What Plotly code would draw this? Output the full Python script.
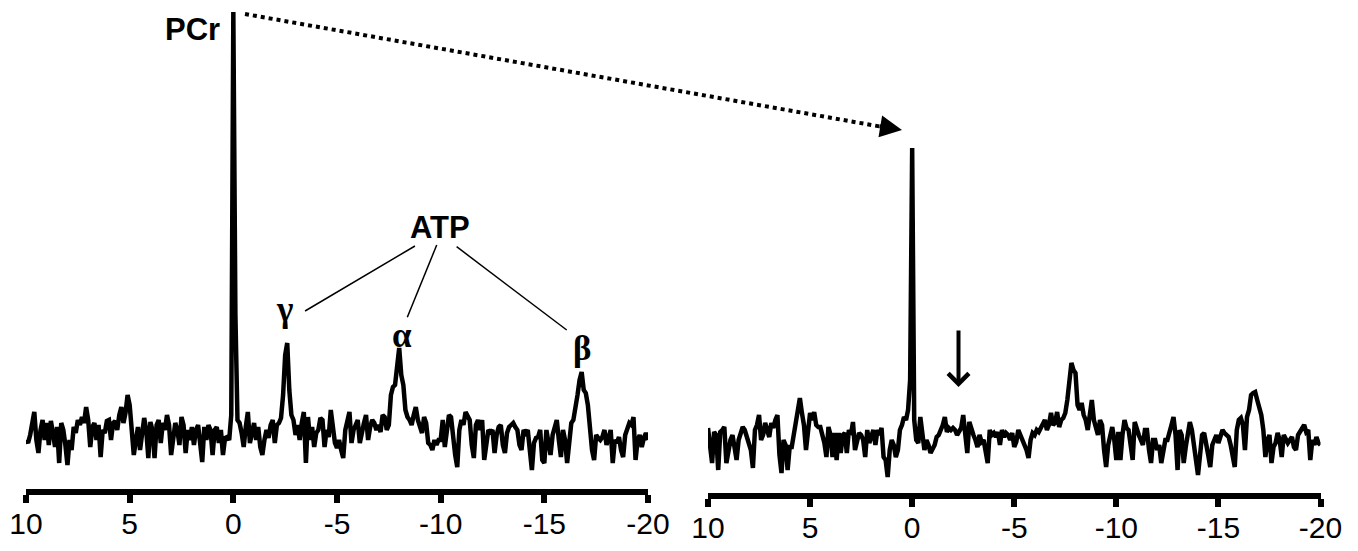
import plotly.graph_objects as go

# chemical shift grid (ppm), 10 -> -20 in 0.1 steps
ppm = [round(10 - i * 0.1, 1) for i in range(301)]
tick_vals = [10, 5, 0, -5, -10, -15, -20]
tick_text = ["10", "5", "0", "-5", "-10", "-15", "-20"]

# left spectrum (signal intensity, arbitrary units)
left_signal = [
    -5, -8, 0, 15, 23, -5, -18, 5, 15, -5,
    12, -10, 14, 2, -12, 8, -28, 12, 5, -10,
    -30, -5, -15, 8, 2, 15, 10, 18, 12, 28,
    15, -12, 8, 12, -5, 10, -22, 5, 2, 14,
    15, -5, 12, 14, 5, 20, 28, 12, 22, 40,
    30, 5, -20, -5, 8, -15, 5, 17, 5, -23,
    13, 5, -23, 10, 15, -8, 12, 5, 20, 10,
    -20, -5, 12, 5, -10, 18, 10, -18, 5, -5,
    8, -10, 5, 10, -5, -27, 8, -5, 10, 5,
    -20, 5, 8, -8, 5, -20, -3, -2, -5, 20,
    423, 120, 15, 12, 2, -12, 8, 23, -8, 5,
    12, -5, 8, -12, -20, -5, 5, -3, 10, 15,
    -8, 10, 12, 17, 40, 80, 92, 45, 20, 15,
    0, 10, -5, 12, 23, -28, 18, -5, 8, -12,
    2, 5, 17, 15, -12, 5, -2, 25, 10, -8,
    -13, -5, -15, -23, 5, 15, 23, -8, 5, 10,
    15, -8, 5, 12, 20, -5, 8, 15, 12, 5,
    10, 3, 20, 18, 5, 10, 40, 48, 50, 75,
    87, 60, 50, 25, 18, 15, 10, 20, 28, 15,
    8, 2, 18, 12, -8, -10, -15, -5, -10, -5,
    -5, 15, -12, 10, 20, 18, -5, -20, -32, 5,
    15, 10, 23, 18, 15, -10, -23, 10, 15, 5,
    15, -25, -5, 5, 3, 5, -18, 0, 8, 10,
    -10, -18, 2, 8, 10, 12, 8, 5, -10, -15,
    5, 2, 5, -20, -35, -8, -3, -2, 5, -25,
    -28, 5, -10, -20, 0, 10, 15, -5, -22, 5,
    -5, -28, -8, 12, 15, 25, 40, 55, 63, 45,
    42, 30, 2, -15, -25, 0, -3, -5, -2, 5,
    -10, 0, 5, -28, -5, -8, -2, -15, -22, 0,
    5, 12, 10, 18, -25, -5, 0, -12, -3, 2,
    -5,
]

# right spectrum (signal intensity, arbitrary units)
right_signal = [
    12, -5, -23, 8, 5, -30, 8, 10, 13, -23,
    -10, 0, 5, -5, -20, 0, 8, 13, 10, 3,
    -5, -10, -28, 10, 15, 25, 0, 5, 17, 10,
    3, 17, 12, 20, 25, -15, -33, 0, -5, -30,
    -7, -7, 5, 15, 30, 42, 27, 15, -10, 10,
    27, 20, 28, 15, 13, 13, 5, -3, -17, 13,
    5, -17, 7, -20, 7, -13, 5, 7, -13, 10,
    5, 18, -10, 0, 7, 5, 0, -17, 10, -3,
    5, 10, -5, 10, 5, 12, -17, -20, -37, -10,
    0, -5, -17, -10, 10, 15, 23, 20, 30, 60,
    292, 20, 0, -3, 23, 5, -10, 0, -5, -13,
    -8, -5, 3, 5, 10, 15, 23, 8, 12, 10,
    12, 10, 5, 8, 12, 25, 5, -13, 18, 10,
    5, 0, -7, 5, -2, 0, -10, -23, 10, 5,
    7, 3, 8, -5, 10, 3, 7, 5, 0, 7,
    -7, -2, 10, 5, 0, -5, -10, -18, 0, 7,
    5, 10, 8, 12, 17, 20, 10, 15, 27, 15,
    17, 28, 13, 20, 22, 27, 40, 60, 77, 70,
    67, 35, 30, 37, 25, 20, 10, 25, 40, 20,
    10, 5, 20, 15, -10, -27, -5, 5, 13, 0,
    -20, 8, -20, 5, 20, 12, 10, -5, -20, 18,
    10, 5, 0, -5, 10, 10, -10, -23, 0, 0,
    -10, -5, -23, -10, 0, 0, 10, 15, 23, 5,
    -30, 10, 5, -23, -7, 5, 18, 10, -10, -20,
    -35, -10, 5, 7, -7, -15, -27, -5, 0, 5,
    -3, 5, 10, 7, 5, 3, -5, -15, -27, 10,
    20, 22, 15, -10, 23, 30, 45, 47, 48, 40,
    33, 25, 10, -17, 0, 5, -23, -7, -3, 7,
    0, -17, 5, 0, -3, 0, 3, -7, -10, 5,
    8, 12, 15, 8, 10, -20, 0, -5, 3, -3,
    -5,
]

# figure size (page body adds an 8 px margin around the plot div)
W, H = 1342, 535
OFF = 8


def px(x):
    return (x - OFF) / W


def py(y):
    return 1 - (y - OFF) / H


line_style = dict(color="black", width=4.5)

fig = go.Figure()
fig.add_trace(go.Scatter(x=ppm, y=left_signal, mode="lines", line=line_style,
                         xaxis="x", yaxis="y", hoverinfo="skip"))
fig.add_trace(go.Scatter(x=ppm, y=right_signal, mode="lines", line=line_style,
                         xaxis="x2", yaxis="y2", hoverinfo="skip"))

axis_common = dict(
    range=[10, -20], showline=True, linewidth=6, linecolor="black",
    ticks="outside", ticklen=8, tickwidth=6, tickcolor="black",
    tickvals=tick_vals, ticktext=tick_text,
    tickfont=dict(family="Liberation Sans, Arial", size=30, color="black"),
    ticklabelstandoff=-5,
    showgrid=False, zeroline=False, fixedrange=True, automargin=False,
)

fig.update_layout(
    width=W, height=H,
    margin=dict(l=0, r=0, t=0, b=0, pad=0, autoexpand=False),
    paper_bgcolor="white", plot_bgcolor="white",
    showlegend=False,
    xaxis=dict(domain=[px(26), px(648)], anchor="y", **axis_common),
    yaxis=dict(domain=[py(488.5), 1], range=[-53.5, 427], visible=False,
               automargin=False),
    xaxis2=dict(domain=[px(708), px(1320.5)], anchor="y2", **axis_common),
    yaxis2=dict(domain=[py(492.5), 1], range=[-52.5, 432], visible=False,
                automargin=False),
)

bold_sans = dict(family="Liberation Sans, Arial", size=31, color="black")
greek = dict(family="Liberation Serif, Times New Roman", size=35, color="black")

annotations = [
    dict(x=0, y=406, xref="x", yref="y", text="<b>PCr</b>", showarrow=False,
         xanchor="right", yanchor="middle", xshift=-11, font=bold_sans),
    dict(x=-9.97, y=208, xref="x", yref="y", text="<b>ATP</b>", showarrow=False,
         xanchor="center", yanchor="middle", font=bold_sans),
    dict(x=-2.49, y=126, xref="x", yref="y", text="<b>γ</b>", showarrow=False,
         xanchor="center", yanchor="middle", font=greek),
    dict(x=-8.14, y=100, xref="x", yref="y", text="<b>α</b>", showarrow=False,
         xanchor="center", yanchor="middle", font=greek),
    dict(x=-16.82, y=87, xref="x", yref="y", text="<b>β</b>", showarrow=False,
         xanchor="center", yanchor="middle", font=greek),
    # arrow head of the dotted connector
    dict(x=px(902), y=py(130), xref="paper", yref="paper", text="",
         showarrow=True, arrowhead=2, arrowwidth=4, arrowsize=1.1,
         arrowcolor="black", ax=-24, ay=-4, standoff=0),
    # down arrow in right spectrum
    dict(x=-2.27, y=53, xref="x2", yref="y2", text="",
         showarrow=True, arrowhead=4, arrowwidth=4, arrowsize=1,
         arrowcolor="black", ax=0, ay=-58, standoff=0),
]
fig.update_layout(annotations=annotations)

shapes = [
    dict(type="line", xref="x", yref="y", x0=-8.76, y0=189, x1=-3.46, y1=124,
         line=dict(color="black", width=1.5)),
    dict(type="line", xref="x", yref="y", x0=-9.81, y0=190, x1=-8.39, y1=117.7,
         line=dict(color="black", width=1.5)),
    dict(type="line", xref="x", yref="y", x0=-10.77, y0=188.3, x1=-16.08, y1=105,
         line=dict(color="black", width=1.5)),
    dict(type="line", xref="paper", yref="paper",
         x0=px(245), y0=py(14), x1=px(880), y1=py(126.5),
         line=dict(color="black", width=4, dash="dot")),
]
fig.update_layout(shapes=shapes)

fig.write_html("out.html")
